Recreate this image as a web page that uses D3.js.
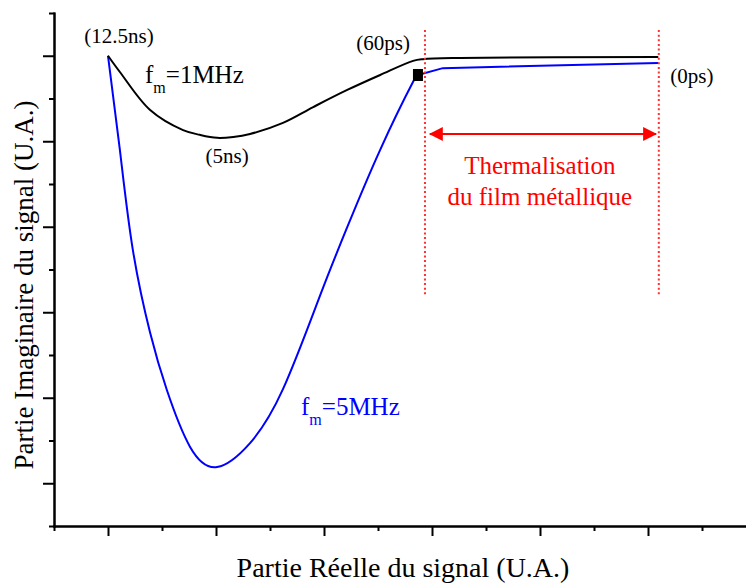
<!DOCTYPE html>
<html>
<head>
<meta charset="utf-8">
<script src="https://cdn.jsdelivr.net/npm/d3@7"></script>
<style>
  html, body { margin: 0; padding: 0; background: #fff; }
  svg { display: block; font-family: "Liberation Serif", "Times New Roman", serif; }
</style>
</head>
<body>
<div id="chart"></div>
<script>
// Series (arbitrary units, same scale as the axes)
const blackX = [1.0, 1.22, 1.78, 2.39, 2.7, 3.02, 3.32, 3.63, 4.24, 4.8, 5.43, 6.04, 6.65, 6.83, 7.52, 11.19];
const blackY = [11.0, 10.62, 9.73, 9.26, 9.15, 9.08, 9.1, 9.17, 9.43, 9.8, 10.2, 10.55, 10.88, 10.92, 10.95, 10.97];

const blueX = [1.0, 1.22, 1.46, 1.78, 2.09, 2.52, 3.02, 3.63, 4.24, 4.93, 5.43, 6.04, 6.65, 6.74, 7.2, 11.19];
const blueY = [11.0, 8.8, 6.46, 4.52, 3.18, 1.85, 1.38, 1.94, 3.2, 5.4, 6.99, 8.8, 10.39, 10.55, 10.71, 10.83];

const marker = { x: 6.74, y: 10.55 };          // (60ps) point on the 5 MHz curve
const thermStart = 6.87, thermEnd = 11.2;       // dotted red limits
const thermTop = 11.6, thermBottom = 5.36;
const arrowY = 9.17, arrowFrom = 6.96, arrowTo = 11.15;

const xMajor = [1, 3, 5, 7, 9, 11];
const xMinor = [0, 2, 4, 6, 8, 10, 12];
const yMajor = [1, 3, 5, 7, 9, 11];
const yMinor = [0, 2, 4, 6, 8, 10, 12];

const W = 746, H = 584;
const svg = d3.select('#chart').append('svg')
  .attr('width', W).attr('height', H);

const x = d3.scaleLinear().domain([0, 692 / 54]).range([54, 746]);
const y = d3.scaleLinear().domain([0, 12]).range([526, 13]);

// Axes: major + minor ticks, no labels
function styleAxis(a) {
  a.selectAll('path, line').attr('stroke', '#000').attr('stroke-width', 2);
  a.selectAll('text').remove();
}
svg.append('g').attr('transform', 'translate(0,526)')
  .call(d3.axisBottom(x).tickValues(xMinor).tickSize(5).tickSizeOuter(0).tickFormat(''))
  .call(styleAxis);
svg.append('g').attr('transform', 'translate(0,526)')
  .call(d3.axisBottom(x).tickValues(xMajor).tickSize(10).tickSizeOuter(0).tickFormat(''))
  .call(styleAxis);
svg.append('g').attr('transform', 'translate(54,0)')
  .call(d3.axisLeft(y).tickValues(yMinor).tickSize(5).tickSizeOuter(0).tickFormat(''))
  .call(styleAxis);
svg.append('g').attr('transform', 'translate(54,0)')
  .call(d3.axisLeft(y).tickValues(yMajor).tickSize(11).tickSizeOuter(0).tickFormat(''))
  .call(styleAxis);
svg.selectAll('.domain').attr('stroke-linecap', 'square');

// Curves
const mkLine = curve => d3.line()
  .x(d => x(d[0])).y(d => y(d[1])).curve(curve);

const bluePts = blueX.map((v, i) => [v, blueY[i]]);
const split = blueX.indexOf(marker.x);
// smooth loop up to the (60ps) marker, straight tail after it
svg.append('path')
  .attr('d', mkLine(d3.curveNatural)(bluePts.slice(0, split + 1)) +
             mkLine(d3.curveLinear)(bluePts.slice(split)).replace(/^M/, 'L'))
  .attr('fill', 'none')
  .attr('stroke', '#0000ff').attr('stroke-width', 2);

svg.append('path')
  .datum(blackX.map((v, i) => [v, blackY[i]]))
  .attr('d', mkLine(d3.curveCatmullRom.alpha(0.5))).attr('fill', 'none')
  .attr('stroke', '#000').attr('stroke-width', 2);

svg.append('rect')
  .attr('x', x(marker.x) - 5).attr('y', y(marker.y) - 6)
  .attr('width', 10).attr('height', 12).attr('fill', '#000');

// Thermalisation region
[thermStart, thermEnd].forEach(v => {
  svg.append('line')
    .attr('x1', x(v)).attr('x2', x(v))
    .attr('y1', y(thermTop)).attr('y2', y(thermBottom))
    .attr('stroke', '#ff3030').attr('stroke-width', 2)
    .attr('stroke-dasharray', '2,2.6');
});

const defs = svg.append('defs');
defs.append('marker').attr('id', 'ah')
  .attr('viewBox', '0 0 14 14').attr('refX', 13).attr('refY', 7)
  .attr('markerWidth', 14).attr('markerHeight', 14)
  .attr('markerUnits', 'userSpaceOnUse')
  .attr('orient', 'auto-start-reverse')
  .append('path').attr('d', 'M0,0 L14,7 L0,14 Z').attr('fill', '#ff0000');

svg.append('line')
  .attr('x1', x(arrowFrom)).attr('x2', x(arrowTo))
  .attr('y1', y(arrowY)).attr('y2', y(arrowY))
  .attr('stroke', '#ff0000').attr('stroke-width', 2)
  .attr('marker-start', 'url(#ah)').attr('marker-end', 'url(#ah)');

const thermMid = (x(thermStart) + x(thermEnd)) / 2;
svg.append('text').attr('x', thermMid - 2).attr('y', 174)
  .attr('text-anchor', 'middle').attr('font-size', 25).attr('fill', '#ff0000')
  .text('Thermalisation');
svg.append('text').attr('x', thermMid - 2).attr('y', 205)
  .attr('text-anchor', 'middle').attr('font-size', 25).attr('fill', '#ff0000')
  .text('du film métallique');

// Point labels
const lbl = (txt, px, py, anchor) => svg.append('text')
  .attr('x', px).attr('y', py).attr('text-anchor', anchor || 'middle')
  .attr('font-size', 21).attr('fill', '#000').text(txt);

lbl('(12.5ns)', x(blackX[0]) + 11, y(blackY[0]) - 13);
lbl('(5ns)', x(blackX[5]) + 10, y(blackY[5]) + 25);
lbl('(60ps)', x(blackX[12]) - 30, y(blackY[12]) - 11);
lbl('(0ps)', x(blackX[15]) + 12, y(blackY[15]) + 26, 'start');

// Frequency labels
function freqLabel(px, py, val, color) {
  const t = svg.append('text').attr('x', px).attr('y', py)
    .attr('font-size', 25).attr('fill', color);
  t.append('tspan').text('f');
  t.append('tspan').attr('font-size', 16).attr('dy', 10).text('m');
  t.append('tspan').attr('dy', -10).text('=' + val);
}
freqLabel(145, 83, '1MHz', '#000');
freqLabel(301, 415, '5MHz', '#0000ff');

// Axis titles
svg.append('text').attr('x', 403).attr('y', 577)
  .attr('text-anchor', 'middle').attr('font-size', 28)
  .text('Partie Réelle du signal (U.A.)');
svg.append('text')
  .attr('transform', 'translate(33,285) rotate(-90)')
  .attr('text-anchor', 'middle').attr('font-size', 27)
  .text('Partie Imaginaire du signal (U.A.)');
</script>
</body>
</html>
